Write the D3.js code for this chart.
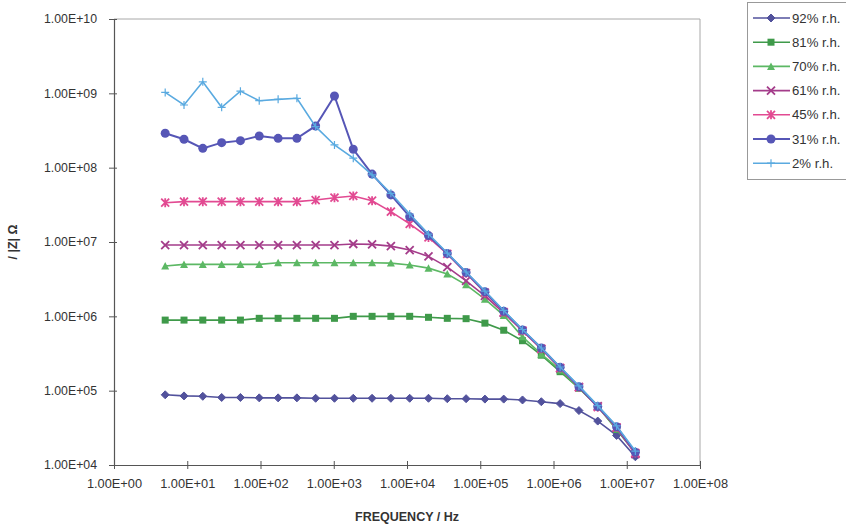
<!DOCTYPE html>
<html>
<head>
<meta charset="utf-8">
<script src="https://cdn.jsdelivr.net/npm/d3@7"></script>
<style>
  body { margin: 0; background: #fff; }
  text { font-family: "Liberation Sans", Arial, sans-serif; fill: #333; }
</style>
</head>
<body>
<svg id="chart" width="846" height="531"></svg>
<script>
// Measurement frequencies (Hz), 5 Hz to 13 MHz
const frequencies = [5, 9.03, 16.3, 29.5, 53.2, 96.1, 174, 314, 566, 1023, 1847, 3336, 6025,
  10880, 19650, 35490, 64100, 115800, 209100, 377600, 682000, 1232000, 2225000, 4018000, 7260000, 13110000];

// |Z| in ohm for each relative humidity
const rh92 = [8.8e4, 8.5e4, 8.4e4, 8.1e4, 8.1e4, 8.0e4, 8.0e4, 8.0e4, 7.9e4, 7.9e4, 7.9e4, 7.9e4, 7.9e4,
  7.9e4, 7.9e4, 7.8e4, 7.8e4, 7.7e4, 7.7e4, 7.5e4, 7.1e4, 6.7e4, 5.4e4, 3.9e4, 2.5e4, 1.29e4];
const rh81 = [8.9e5, 8.9e5, 8.9e5, 8.9e5, 8.9e5, 9.4e5, 9.4e5, 9.4e5, 9.4e5, 9.4e5, 1.0e6, 1.0e6, 1.0e6,
  1.0e6, 9.7e5, 9.4e5, 9.3e5, 8.1e5, 6.5e5, 4.7e5, 3.0e5, 1.8e5, 1.08e5, 6.1e4, 3.0e4, 1.45e4];
const rh70 = [4.75e6, 5.0e6, 5.0e6, 5.0e6, 5.0e6, 5.0e6, 5.25e6, 5.25e6, 5.25e6, 5.25e6, 5.25e6, 5.25e6, 5.2e6,
  4.9e6, 4.45e6, 3.7e6, 2.65e6, 1.7e6, 1.03e6, 5.3e5, 3.1e5, 1.9e5, 1.09e5, 6.2e4, 3.05e4, 1.45e4];
const rh61 = [9.1e6, 9.1e6, 9.1e6, 9.1e6, 9.1e6, 9.1e6, 9.1e6, 9.1e6, 9.1e6, 9.1e6, 9.4e6, 9.3e6, 8.8e6,
  7.8e6, 6.4e6, 4.6e6, 3.0e6, 1.88e6, 1.11e6, 6.35e5, 3.65e5, 2.0e5, 1.12e5, 6.2e4, 3.15e4, 1.4e4];
const rh45 = [3.38e7, 3.49e7, 3.49e7, 3.49e7, 3.49e7, 3.49e7, 3.49e7, 3.49e7, 3.67e7, 3.94e7, 4.16e7, 3.59e7, 2.56e7,
  1.75e7, 1.15e7, 6.9e6, 3.8e6, 2.08e6, 1.14e6, 6.4e5, 3.65e5, 2.02e5, 1.11e5, 6.0e4, 3.2e4, 1.45e4];
const rh31 = [2.9e8, 2.41e8, 1.82e8, 2.17e8, 2.31e8, 2.67e8, 2.48e8, 2.48e8, 3.64e8, 9.2e8, 1.77e8, 8.2e7, 4.3e7,
  2.19e7, 1.22e7, 7.0e6, 3.89e6, 2.14e6, 1.17e6, 6.55e5, 3.75e5, 2.06e5, 1.13e5, 6.1e4, 3.27e4, 1.48e4];
const rh2 = [1.03e9, 6.97e8, 1.43e9, 6.48e8, 1.07e9, 7.96e8, 8.3e8, 8.57e8, 3.56e8, 2.02e8, 1.34e8, 7.98e7, 4.52e7,
  2.38e7, 1.28e7, 7.1e6, 3.95e6, 2.19e6, 1.2e6, 6.65e5, 3.75e5, 2.08e5, 1.16e5, 6.3e4, 3.35e4, 1.54e4];

const seriesNames = ["92% r.h.", "81% r.h.", "70% r.h.", "61% r.h.", "45% r.h.", "31% r.h.", "2% r.h."];
const seriesValues = [rh92, rh81, rh70, rh61, rh45, rh31, rh2];
const seriesColors = ["#52529c", "#3f9a4a", "#5cb864", "#a43c8a", "#e24a92", "#5656b6", "#5aaae0"];
const seriesMarkers = ["diamond", "square", "triangle", "x", "star", "circle", "plus"];

const xTickValues = [1, 1e1, 1e2, 1e3, 1e4, 1e5, 1e6, 1e7, 1e8];
const xTickLabels = ["1.00E+00", "1.00E+01", "1.00E+02", "1.00E+03", "1.00E+04", "1.00E+05", "1.00E+06", "1.00E+07", "1.00E+08"];
const yTickValues = [1e4, 1e5, 1e6, 1e7, 1e8, 1e9, 1e10];
const yTickLabels = ["1.00E+04", "1.00E+05", "1.00E+06", "1.00E+07", "1.00E+08", "1.00E+09", "1.00E+10"];

const xTitle = "FREQUENCY / Hz";
const yTitle = "/ |Z| Ω";

const svg = d3.select("#chart");
const plot = { left: 114, right: 700, top: 19, bottom: 465 };

const x = d3.scaleLog().domain([1, 1e8]).range([plot.left, plot.right]);
const y = d3.scaleLog().domain([1e4, 1e10]).range([plot.bottom, plot.top]);

// plot frame (top and right edges)
svg.append("path")
  .attr("d", `M${plot.left},${plot.top}H${plot.right}V${plot.bottom}`)
  .attr("fill", "none").attr("stroke", "#a8a8a8").attr("stroke-width", 1);

// axes
const xAxis = d3.axisBottom(x).tickValues(xTickValues)
  .tickFormat((d, i) => xTickLabels[i]).tickSizeInner(4).tickSizeOuter(0).tickPadding(10);
const gx = svg.append("g").attr("transform", `translate(0,${plot.bottom})`).call(xAxis);
gx.select(".domain").attr("stroke", "#555").attr("stroke-width", 1.2);
gx.selectAll(".tick line").attr("stroke", "#555").attr("y1", -4).attr("y2", 4);
gx.selectAll(".tick text").attr("font-size", 12.8).attr("fill", "#333");

const yAxis = d3.axisLeft(y).tickValues(yTickValues)
  .tickFormat((d, i) => yTickLabels[i]).tickSizeInner(5).tickSizeOuter(0).tickPadding(12);
const gy = svg.append("g").attr("transform", `translate(${plot.left},0)`).call(yAxis);
gy.select(".domain").attr("stroke", "#555").attr("stroke-width", 1.2);
gy.selectAll(".tick line").attr("stroke", "#555").attr("x1", -5).attr("x2", 3);
gy.selectAll(".tick text").attr("font-size", 12.3).attr("fill", "#333");

// axis titles
svg.append("text").attr("x", 407).attr("y", 521).attr("text-anchor", "middle")
  .attr("font-size", 12.5).attr("font-weight", "bold").attr("fill", "#444").text(xTitle);
svg.append("text").attr("transform", "translate(17,242) rotate(-90)").attr("text-anchor", "middle")
  .attr("font-size", 12.5).attr("font-weight", "bold").attr("fill", "#444").text(yTitle);

// marker shapes
function drawMarker(g, type, color) {
  switch (type) {
    case "diamond":
      g.append("path").attr("d", "M0,-4L4,0L0,4L-4,0Z").attr("fill", color).attr("stroke", color);
      break;
    case "square":
      g.append("rect").attr("x", -3.5).attr("y", -3.5).attr("width", 7).attr("height", 7).attr("fill", color);
      break;
    case "triangle":
      g.append("path").attr("d", "M0,-4L4,3.5L-4,3.5Z").attr("fill", color);
      break;
    case "x":
      g.append("path").attr("d", "M-4,-4L4,4M-4,4L4,-4").attr("stroke", color).attr("stroke-width", 1.8).attr("fill", "none");
      break;
    case "star":
      g.append("path").attr("d", "M-4,-4L4,4M-4,4L4,-4M0,-4.5V4.5").attr("stroke", color).attr("stroke-width", 1.8).attr("fill", "none");
      break;
    case "circle":
      g.append("circle").attr("r", 4.5).attr("fill", color);
      break;
    case "plus":
      g.append("path").attr("d", "M-4,0H4M0,-4V4").attr("stroke", color).attr("stroke-width", 1.2).attr("fill", "none");
      break;
  }
}

const line = d3.line().x(d => x(d[0])).y(d => y(d[1]));

seriesValues.forEach((vals, si) => {
  const pts = frequencies.map((f, i) => [f, vals[i]]);
  const color = seriesColors[si];
  const g = svg.append("g").attr("class", "series");
  g.append("path").datum(pts).attr("d", line)
    .attr("fill", "none").attr("stroke", color)
    .attr("stroke-width", si === 5 ? 2 : 1.6);
  pts.forEach(p => {
    const m = g.append("g").attr("transform", `translate(${x(p[0])},${y(p[1])})`);
    drawMarker(m, seriesMarkers[si], color);
  });
});

// legend
const legend = svg.append("g");
legend.append("rect").attr("x", 747.5).attr("y", 2.5).attr("width", 110).attr("height", 177)
  .attr("fill", "#fff").attr("stroke", "#999");
seriesNames.forEach((name, i) => {
  const ly = 18 + i * 24.2;
  const color = seriesColors[i];
  legend.append("line").attr("x1", 753).attr("x2", 790).attr("y1", ly).attr("y2", ly)
    .attr("stroke", color).attr("stroke-width", i === 5 ? 2 : 1.6);
  const m = legend.append("g").attr("transform", `translate(771,${ly})`);
  drawMarker(m, seriesMarkers[i], color);
  legend.append("text").attr("x", 792).attr("y", ly + 4.5).attr("font-size", 13.2).attr("fill", "#333").text(name);
});
</script>
</body>
</html>
